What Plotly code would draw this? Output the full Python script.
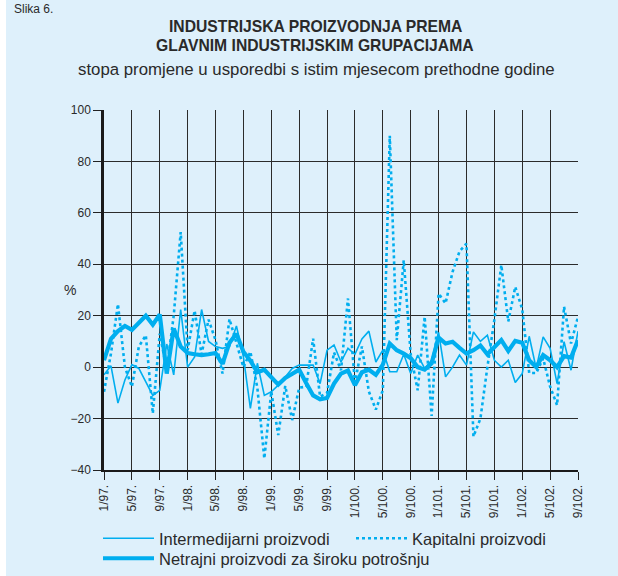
import plotly.graph_objects as go

# ---- data ----
months = [f"{m}/{y:02d}" for y in range(97, 103) for m in range(1, 13)][:69]

intermedijarni = [
    -3, 0.5, -14, -5, 1, -0.5, -5.7, -11, -9, 9,
    -3, 22.4, 0, 4, 22.4, 10, 8, 7.3, 8, 16,
    4, -16, 1.5, -11, -9.6, -7, -3.8, -0.5, 0.8, 0.8,
    0.8, -6.4, 6.6, 8.6, 2, 7.3, 5, 11, 14, 2,
    6.6, -1.8, -1.8, 5, -2.5, 4.7, -0.5, 2.7, 13.5, -3.8,
    0, 4.7, 0.8, 13.7, 10, 12.4, 2.7, 0, 2.7, -6,
    -2.5, 12, -0.5, 11.8, 7.3, -6.4, 9.9, -1.2, 14,
]

kapitalni = [
    -9.6, 5.3, 24.5, 0, -7.6, 8, 12.4, -18, 13, -1,
    20, 52.5, 6.6, 22, 5, 18.5, 10.5, -2.5, 18.7, 9,
    0, 6, -8, -35.5, -9.5, -26.4, -7.3, -20.6, -8, -7.6,
    11.1, -11.5, -10, 5.7, -1.2, 26.7, -6, 8, -9.5, -16.5,
    -9, 90, 10.5, 41.6, 5, -9, 19.6, -19, 28.6, 24.8,
    37, 45, 48, -27, -20, 0, 18.4, 39.7, 17.8, 31.2,
    22.5, -2.3, -2.3, 3.4, -7.6, -14.8, 23.5, 9.2, 19.6,
]

netrajni = [
    2.7, 11, 14, 16, 14.5, 17, 20, 16.5, 20.5, -2.5,
    15, 8, 5.5, 5, 4.7, 5, 5.5, 1.3, 9.5, 13,
    6, 2.5, -2, -1, -4, -6.8, -4.2, -2.5, -1, -6.2,
    -11, -12.5, -12, -6.4, -2.5, -1.3, -7, -2, -1, -3,
    1, 9.2, 6.6, 5.3, 3.5, 0, -1, 1.5, 11.5, 9.2,
    9.9, 7.5, 5.3, 6.6, 8.4, 5, 8, 10.5, 6.3, 10.2,
    9.5, 2.7, 0, 4.7, 2.7, 0, 4.3, 3.7, 10.5,
]

tick_vals = months[::4]
tick_text = [m + "." for m in tick_vals]
y_ticks = [-40, -20, 0, 20, 40, 60, 80, 100]

series_names = [
    "Intermedijarni proizvodi",
    "Kapitalni proizvodi",
    "Netrajni proizvodi za široku potrošnju",
]

# ---- style ----
BG = "#DEF0FB"
LINE = "#00AEEF"
TXT = "#2a2a2a"
FONT = "Liberation Sans, Arial, sans-serif"

W, H = 618, 576
L, R, T, B = 104, 40, 110, 106
PW, PH = W - L - R, H - T - B


def px(x):
    return (x - L) / PW


def py(y):
    return (H - B - y) / PH


def cx(x):
    return x / W


def cy(y):
    return 1 - y / H


fig = go.Figure()
fig.add_trace(go.Scatter(x=months, y=intermedijarni, name=series_names[0], mode="lines",
                         line=dict(color=LINE, width=1.6), legend="legend"))
fig.add_trace(go.Scatter(x=months, y=kapitalni, name=series_names[1], mode="lines",
                         line=dict(color=LINE, width=2.6, dash="dot"), legend="legend2"))
fig.add_trace(go.Scatter(x=months, y=netrajni, name=series_names[2], mode="lines",
                         line=dict(color=LINE, width=4.2), legend="legend3"))

leg_common = dict(
    orientation="h", xanchor="left", yanchor="top", xref="container", yref="container",
    font=dict(size=16.5, family=FONT, color=TXT), bgcolor="rgba(0,0,0,0)",
    itemwidth=51, borderwidth=0,
)

fig.update_layout(
    width=W, height=H,
    margin=dict(l=L, r=R, t=T, b=B, pad=0),
    paper_bgcolor=BG, plot_bgcolor=BG,
    font=dict(family=FONT, color=TXT, size=12),
    showlegend=True,
    legend=dict(x=cx(98), y=cy(521), **leg_common),
    legend2=dict(x=cx(351), y=cy(521), **leg_common),
    legend3=dict(x=cx(98), y=cy(541), **leg_common),
    xaxis=dict(
        type="category", range=[0, len(months) - 1],
        tickmode="array", tickvals=tick_vals, ticktext=tick_text,
        tickangle=-90, ticks="outside", ticklen=8, tickcolor="#222", tickwidth=1,
        tickfont=dict(size=12, family=FONT, color=TXT),
        showgrid=True, gridcolor="#2b2b2b", gridwidth=1,
        showline=True, linecolor="#1a1a1a", linewidth=2, mirror=False,
        zeroline=False, automargin=False,
    ),
    yaxis=dict(
        range=[-40, 100], tickmode="array", tickvals=y_ticks,
        ticks="outside", ticklen=8, tickcolor="#222", tickwidth=1,
        tickfont=dict(size=12, family=FONT, color=TXT),
        showgrid=True, gridcolor="#2b2b2b", gridwidth=1,
        showline=True, linecolor="#1a1a1a", linewidth=2.5,
        zeroline=False, automargin=False,
    ),
    shapes=[
        dict(type="rect", xref="paper", yref="paper", x0=px(-5), x1=px(6), y0=py(H + 5), y1=py(-5),
             fillcolor="white", line=dict(width=0), layer="below"),
    ],
    annotations=[
        dict(text="<b>INDUSTRIJSKA PROIZVODNJA PREMA</b>", xref="paper", yref="paper",
             x=px(315), y=py(27), xanchor="center", yanchor="middle", showarrow=False,
             font=dict(size=15.7, family=FONT, color=TXT)),
        dict(text="<b>GLAVNIM INDUSTRIJSKIM GRUPACIJAMA</b>", xref="paper", yref="paper",
             x=px(315), y=py(46), xanchor="center", yanchor="middle", showarrow=False,
             font=dict(size=15.7, family=FONT, color=TXT)),
        dict(text="stopa promjene u usporedbi s istim mjesecom prethodne godine", xref="paper", yref="paper",
             x=px(316), y=py(70), xanchor="center", yanchor="middle", showarrow=False,
             font=dict(size=16.8, family=FONT, color=TXT)),
        dict(text="%", xref="paper", yref="paper", x=px(70), y=py(290), xanchor="center", yanchor="middle",
             showarrow=False, font=dict(size=14, family=FONT, color=TXT)),
        dict(text="Slika 6.", xref="paper", yref="paper", x=px(12), y=py(0), xanchor="left", yanchor="top",
             showarrow=False, font=dict(size=12, family=FONT, color=TXT)),
    ],
)

fig.write_html("out.html", config={"displayModeBar": False},
               post_script="document.body.style.margin='0';")
